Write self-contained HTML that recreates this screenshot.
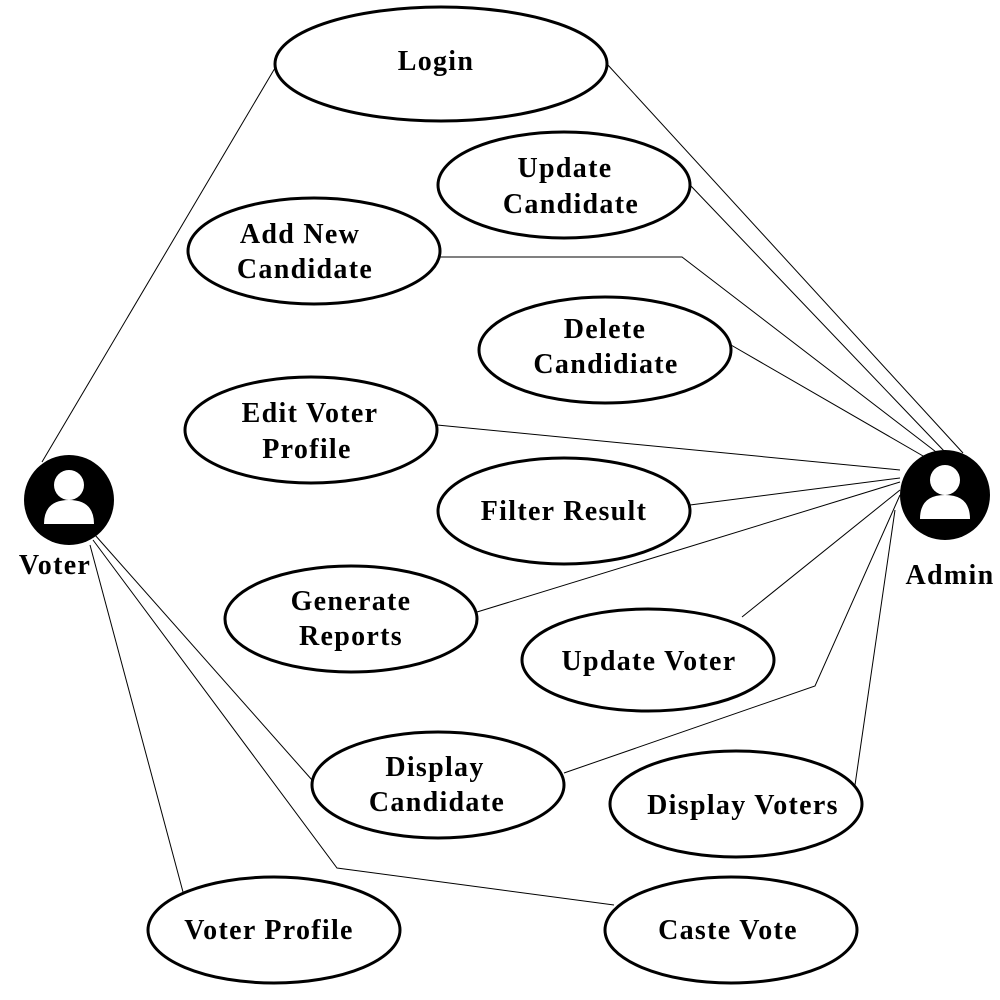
<!DOCTYPE html>
<html><head><meta charset="utf-8"><style>
html,body{margin:0;padding:0;background:#fff}
svg{display:block}
text{font-family:"Liberation Serif",serif;font-weight:bold;font-size:28px;letter-spacing:1.3px;fill:#000;text-anchor:middle}
</style></head><body>
<svg width="1000" height="1000" viewBox="0 0 1000 1000">
<g stroke="#000" stroke-width="1" fill="none">
<line x1="42" y1="462" x2="275" y2="68"/>
<line x1="607" y1="64" x2="963" y2="453"/>
<line x1="690" y1="185" x2="945" y2="452"/>
<polyline points="440,257 682,257 940,455"/>
<line x1="731" y1="345" x2="930" y2="460"/>
<line x1="437" y1="425" x2="900" y2="470"/>
<line x1="690" y1="505" x2="900" y2="478"/>
<line x1="477" y1="612" x2="900" y2="482"/>
<line x1="742" y1="617" x2="900" y2="490"/>
<polyline points="564,773 815,686 900,495"/>
<line x1="855" y1="785" x2="895" y2="510"/>
<line x1="95" y1="535" x2="312" y2="780"/>
<polyline points="93,540 337,868 614,905"/>
<line x1="90" y1="545" x2="183" y2="892"/>
</g>
<g stroke="#000" stroke-width="3" fill="#fff">
<ellipse cx="441" cy="64" rx="166" ry="57"/>
<ellipse cx="564" cy="185" rx="126" ry="53"/>
<ellipse cx="314" cy="251" rx="126" ry="53"/>
<ellipse cx="605" cy="350" rx="126" ry="53"/>
<ellipse cx="311" cy="430" rx="126" ry="53"/>
<ellipse cx="564" cy="511" rx="126" ry="53"/>
<ellipse cx="351" cy="619" rx="126" ry="53"/>
<ellipse cx="648" cy="660" rx="126" ry="51"/>
<ellipse cx="438" cy="785" rx="126" ry="53"/>
<ellipse cx="736" cy="804" rx="126" ry="53"/>
<ellipse cx="274" cy="930" rx="126" ry="53"/>
<ellipse cx="731" cy="930" rx="126" ry="53"/>
</g>
<text x="436" y="70">Login</text>
<text x="565" y="177">Update</text><text x="571" y="213">Candidate</text>
<text x="300" y="243">Add New</text><text x="305" y="278">Candidate</text>
<text x="605" y="338">Delete</text><text x="606" y="373">Candidiate</text>
<text x="310" y="422">Edit Voter</text><text x="307" y="458">Profile</text>
<text x="564" y="520">Filter Result</text>
<text x="351" y="610">Generate</text><text x="351" y="645">Reports</text>
<text x="649" y="670">Update Voter</text>
<text x="435" y="776">Display</text><text x="437" y="811">Candidate</text>
<text x="743" y="814">Display Voters</text>
<text x="269" y="939">Voter Profile</text>
<text x="728" y="939">Caste Vote</text>
<circle cx="69" cy="500" r="45" fill="#000"/>
<circle cx="69" cy="485" r="15" fill="#fff"/>
<path d="M44,524 Q44,500 69,500 Q94,500 94,524 Z" fill="#fff"/>
<circle cx="945" cy="495" r="45" fill="#000"/>
<circle cx="945" cy="480" r="15" fill="#fff"/>
<path d="M920,519 Q920,495 945,495 Q970,495 970,519 Z" fill="#fff"/>
<text x="55" y="574">Voter</text>
<text x="950" y="584">Admin</text>
</svg>
</body></html>
